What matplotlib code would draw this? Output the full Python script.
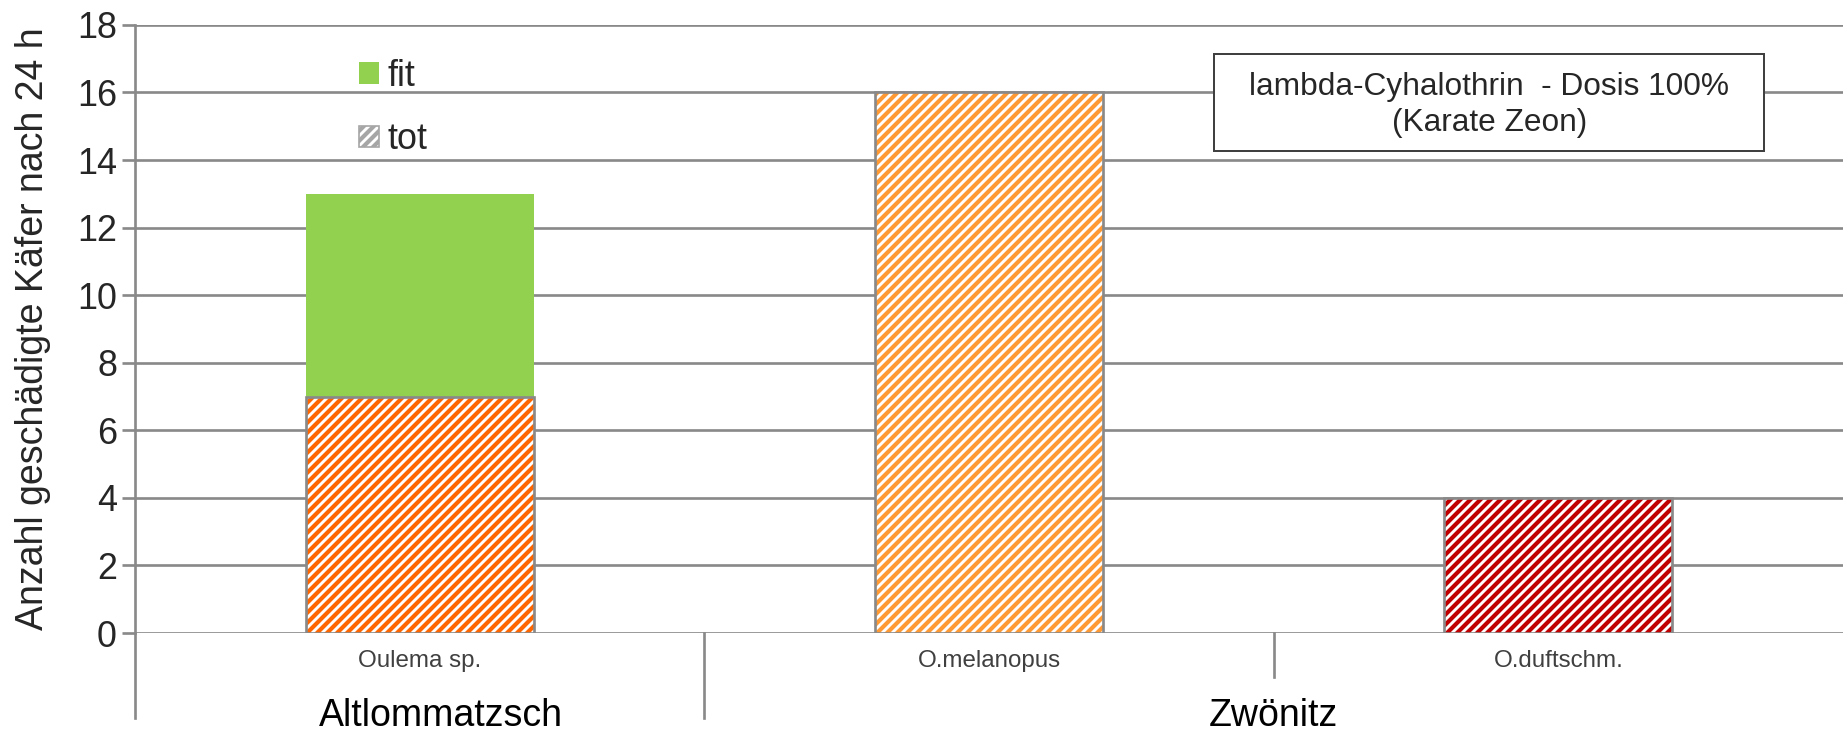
import matplotlib
matplotlib.use("Agg")
import matplotlib.pyplot as plt
from matplotlib.patches import Patch, Rectangle
import matplotlib.transforms as mtransforms
import numpy as np

# ---- data ----
species = ["Oulema sp.", "O.melanopus", "O.duftschm."]
groups = ["Altlommatzsch", "Zwönitz"]
group_spans = [(0, 0), (1, 2)]          # index range of species in each group
tot = [7, 16, 4]
fit = [6, 0, 0]
tot_colors = ["#FF6600", "#FF9933", "#C00000"]
fit_color = "#92D050"
yticks = list(range(0, 19, 2))
box_text = "lambda-Cyhalothrin  - Dosis 100%\n(Karate Zeon)"
ylabel = "Anzahl geschädigte Käfer nach 24 h"

plt.rcParams['font.family'] = ['Liberation Sans', 'DejaVu Sans']
plt.rcParams['hatch.linewidth'] = 2.5

DPI = 120
fig = plt.figure(figsize=(1846 / DPI, 731 / DPI), dpi=DPI)
ax = fig.add_axes([0.0733, 0.134, 0.925, 0.832])

x = np.arange(len(species))
w = 0.40
grid_c = "#898989"

# hatched "tot" bars
for xi, t, c in zip(x, tot, tot_colors):
    bc = ax.bar(xi, t, width=w, color="white", edgecolor=c, hatch="////", linewidth=0, zorder=3)
    for p in bc:
        if hasattr(p, "set_hatch_linewidth"):
            p.set_hatch_linewidth(2.5)
    ax.bar(xi, t, width=w, fill=False, edgecolor=grid_c, linewidth=1.6, zorder=4)
# "fit" bars stacked on top
ax.bar(x, fit, width=w, bottom=tot, color=fit_color, edgecolor="none", linewidth=0, zorder=3)

ax.set_xlim(-0.5, len(species) - 0.5)
ax.set_ylim(0, 18)
ax.set_yticks(yticks)
ax.set_yticklabels([str(v) for v in yticks], fontsize=21.5, color="#262626")
ax.tick_params(axis="y", length=8, width=1.6, color=grid_c, pad=3, direction="out")
ax.set_xticks([])
ax.yaxis.grid(True, color=grid_c, linewidth=1.6, zorder=0)
ax.set_axisbelow(True)
for s in ["top", "right", "bottom"]:
    ax.spines[s].set_visible(False)
ax.spines["left"].set_color(grid_c)
ax.spines["left"].set_linewidth(1.6)

# category axis decorations
trans = mtransforms.blended_transform_factory(ax.transData, ax.transAxes)
for xi, name in zip(x, species):
    ax.text(xi, -0.046, name, transform=trans, ha="center", va="center",
            fontsize=14.5, color="#404040")
for (a, b), g in zip(group_spans, groups):
    ax.text((a + b) / 2 + (0.037 if a == b else 0.0), -0.136, g, transform=trans,
            ha="center", va="center", fontsize=22.5, color="black")
# separators
ax.plot([-0.5, -0.5], [0, -0.14], transform=trans, color=grid_c, lw=1.6, clip_on=False)
for (a, b) in group_spans[1:]:
    ax.plot([a - 0.5, a - 0.5], [0, -0.14], transform=trans, color=grid_c, lw=1.6, clip_on=False)
for (a, b) in group_spans:
    for k in range(a, b):
        ax.plot([k + 0.5, k + 0.5], [0, -0.072], transform=trans, color=grid_c, lw=1.6, clip_on=False)

# legend
handles = [Patch(facecolor=fit_color, edgecolor="none", label="fit"),
           Patch(facecolor="white", edgecolor="#A6A6A6", hatch="////", label="tot")]
leg = ax.legend(handles=handles, loc="upper left", bbox_to_anchor=(0.112, 0.997),
                frameon=False, fontsize=21.5, handlelength=0.55, handleheight=0.55,
                handletextpad=0.25, labelspacing=0.79, labelcolor="#262626")

# text box
ax.add_patch(Rectangle((0.632, 0.793), 0.322, 0.159, transform=ax.transAxes,
                       facecolor="white", edgecolor="#404040", lw=1.2, zorder=5))
ax.text(0.793, 0.868, box_text, transform=ax.transAxes, ha="center", va="center",
        fontsize=19, color="#262626", zorder=6, linespacing=1.25)

fig.text(0.018, 0.55, ylabel, rotation=90, ha="center", va="center",
         fontsize=22.5, color="#262626")

fig.savefig("out.png", dpi=DPI)
